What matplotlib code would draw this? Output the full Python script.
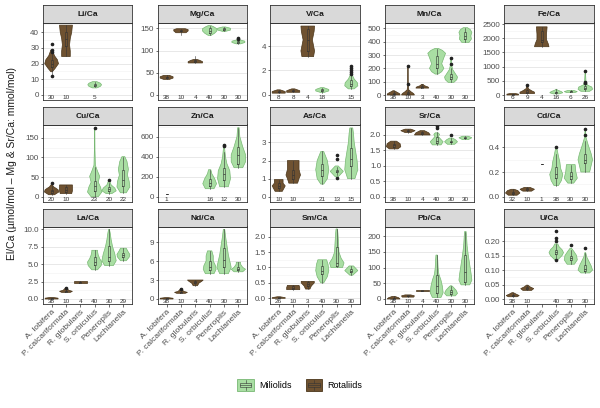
import matplotlib
matplotlib.use("Agg")
import matplotlib.pyplot as plt
from matplotlib.patches import Patch, Rectangle
from matplotlib.lines import Line2D
from matplotlib.legend_handler import HandlerBase

plt.rcParams['font.family'] = ['Liberation Sans', 'DejaVu Sans']

species = ["A. lobifera", "P. calcariformata", "R. globularis",
           "S. orbiculus", "Peneroplis", "Lachlanella"]
order = ["Rotaliids", "Rotaliids", "Rotaliids", "Miliolids", "Miliolids", "Miliolids"]

panels = ["Li/Ca", "Mg/Ca", "V/Ca", "Mn/Ca", "Fe/Ca",
          "Cu/Ca", "Zn/Ca", "As/Ca", "Sr/Ca", "Cd/Ca",
          "La/Ca", "Nd/Ca", "Sm/Ca", "Pb/Ca", "U/Ca"]

ylims = [(-3.2, 46.2), (-11.3, 163), (-0.41, 5.92), (-37.5, 544), (-176, 2553),
         (-13.5, 184), (-53, 722), (-0.29, 3.99), (-0.17, 2.34), (-0.043, 0.585),
         (-0.72, 10.42), (-0.79, 11.45), (-0.185, 2.33), (-16, 231), (-0.017, 0.25)]

yticks = [[0, 10, 20, 30, 40], [0, 50, 100, 150], [0, 2, 4], [0, 100, 200, 300, 400, 500],
          [0, 500, 1000, 1500, 2000, 2500],
          [0, 50, 100, 150], [0, 200, 400, 600], [0, 1, 2, 3], [0, 0.5, 1.0, 1.5, 2.0],
          [0, 0.2, 0.4],
          [0, 2.5, 5.0, 7.5, 10.0], [0, 3, 6, 9], [0, 0.5, 1.0, 1.5, 2.0],
          [0, 50, 100, 150, 200], [0, 0.05, 0.10, 0.15, 0.20]]
ydec = [0, 0, 0, 0, 0, 0, 0, 0, 1, 1, 1, 0, 1, 0, 2]

counts = [[30, 10, None, 5, None, None], [38, 10, 4, 40, 30, 30], [8, 8, 4, 18, None, 15],
          [38, 10, 3, 40, 30, 30], [6, 9, 4, 16, 6, 26],
          [20, 10, None, 23, 20, 22], [1, None, None, 16, 12, 30], [10, 10, None, 21, 13, 15],
          [38, 10, 4, 40, 30, 30], [32, 10, 1, 38, 30, 30],
          [38, 10, 4, 40, 30, 29], [38, 10, 4, 40, 30, 30], [26, 10, 3, 40, 30, 30],
          [38, 10, 4, 40, 30, 30], [38, 10, None, 40, 30, 30]]

# violin outlines: (value, half width)
violins = [
    [[(14.8, .05), (17, .25), (20, .48), (22.5, .4), (25, .2), (28.7, .05)],
     [(24.5, .3), (28, .3), (32, .25), (36, .3), (40, .4), (44.5, .45)],
     None,
     [(4.5, .15), (5.5, .4), (6.5, .48), (7.5, .4), (8.5, .15)], None, None],
    [[(35, .2), (38, .45), (41, .45), (44, .2)],
     [(140, .35), (144, .5), (147, .5), (149, .3)],
     [(72, .5), (75, .5), (78, .3), (80, .1)],
     [(134, .1), (139, .35), (144, .5), (149, .5), (153, .3), (156, .1)],
     [(143, .1), (146, .45), (150, .45), (153, .1)],
     [(115, .15), (118, .45), (121, .45), (124, .1)]],
    [[(0.15, .45), (0.28, .45), (0.42, .1)],
     [(0.22, .45), (0.35, .45), (0.5, .1)],
     [(3.13, .4), (3.6, .47), (4.5, .32), (5.2, .44), (5.63, .47)],
     [(0.2, .1), (0.33, .45), (0.45, .45), (0.6, .1)],
     None,
     [(0.5, .2), (0.75, .45), (1.0, .42), (1.3, .2), (1.6, .08), (2.0, .04), (2.4, .02)]],
    [[(0, .45), (10, .42), (20, .25), (32, .05)],
     [(0, .45), (10, .4), (25, .2), (40, .05), (80, .02), (220, .01)],
     [(52, .45), (60, .4), (70, .15), (80, .05)],
     [(157, .1), (175, .35), (200, .5), (235, .35), (280, .5), (313, .62), (335, .4), (350, .1)],
     [(95, .2), (115, .4), (135, .45), (160, .3), (190, .12), (230, .03), (280, .01)],
     [(395, .25), (420, .42), (445, .38), (470, .45), (490, .35), (505, .15)]],
    [[(0, .4), (30, .4), (50, .2)],
     [(50, .5), (100, .5), (150, .3), (220, .08), (350, .02)],
     [(1700, .5), (1800, .45), (1950, .33), (2150, .33), (2400, .37)],
     [(40, .2), (80, .45), (120, .35), (170, .1), (200, .03)],
     [(90, .3), (120, .45), (160, .2)],
     [(130, .3), (200, .5), (280, .45), (350, .15), (450, .05), (850, .01)]],
    [[(5, .2), (12, .5), (18, .45), (25, .15), (30, .05)],
     [(8, .4), (15, .45), (25, .45), (30, .45)],
     None,
     [(0, .25), (12, .5), (25, .4), (37, .25), (52, .35), (65, .2), (80, .05), (120, .02), (175, .01)],
     [(8, .2), (15, .5), (22, .4), (30, .15), (42, .02)],
     [(10, .2), (25, .45), (40, .4), (55, .28), (70, .35), (90, .25), (102, .1)]],
    [None, None, None,
     [(80, .3), (130, .48), (180, .35), (230, .15), (270, .08)],
     [(100, .3), (180, .45), (260, .4), (330, .2), (400, .1), (470, .05), (520, .03)],
     [(290, .3), (350, .5), (420, .5), (500, .3), (600, .1), (690, .05)]],
    [[(0.3, .25), (0.6, .45), (0.75, .3), (0.95, .3)],
     [(0.75, .3), (1.0, .4), (1.2, .5), (1.5, .4), (1.8, .4), (2.0, .4)],
     None,
     [(0.7, .1), (1.0, .35), (1.5, .45), (2.0, .35), (2.5, .1)],
     [(1.1, .1), (1.4, .45), (1.7, .1)],
     [(1.0, .25), (1.5, .45), (2.0, .4), (2.5, .3), (3.0, .2), (3.5, .15), (3.8, .1)]],
    [[(1.55, .3), (1.62, .5), (1.72, .45), (1.8, .2)],
     [(2.08, .2), (2.14, .5), (2.19, .2)],
     [(2.0, .55), (2.07, .45), (2.14, .15)],
     [(1.68, .3), (1.78, .45), (1.88, .25), (1.95, .12), (2.02, .2), (2.07, .1)],
     [(1.7, .25), (1.78, .45), (1.85, .3), (1.9, .1)],
     [(1.85, .2), (1.91, .45), (1.96, .2)]],
    [[(0.012, .3), (0.03, .5), (0.05, .35), (0.06, .1)],
     [(0.045, .3), (0.06, .5), (0.075, .2)],
     None,
     [(0.09, .15), (0.13, .35), (0.18, .45), (0.23, .3), (0.28, .25), (0.33, .15), (0.4, .03)],
     [(0.11, .2), (0.15, .45), (0.2, .35), (0.26, .3)],
     [(0.2, .3), (0.25, .4), (0.3, .5), (0.35, .4), (0.42, .2), (0.48, .05), (0.55, .01)]],
    [[(0.0, .45), (0.12, .45), (0.22, .1)],
     [(0.95, .3), (1.1, .45), (1.25, .2), (1.6, .02)],
     [(2.25, .45), (2.45, .45), (2.6, .45)],
     [(4.2, .2), (4.8, .45), (5.3, .5), (5.8, .35), (6.3, .25), (6.8, .2), (7.0, .2)],
     [(4.8, .3), (5.5, .5), (6.5, .4), (7.5, .25), (8.5, .15), (9.5, .08), (10.0, .03)],
     [(5.5, .2), (6.0, .4), (6.4, .45), (6.9, .3), (7.3, .2)]],
    [[(0.0, .45), (0.12, .45), (0.22, .1)],
     [(0.9, .3), (1.05, .45), (1.2, .2), (1.6, .02)],
     [(2.1, .15), (2.5, .25), (2.8, .45), (3.0, .55)],
     [(4.0, .3), (4.7, .45), (5.3, .4), (6.0, .25), (6.8, .25), (7.6, .15)],
     [(4.0, .3), (5.0, .5), (6.0, .4), (7.0, .3), (8.5, .2), (10, .1), (11, .05)],
     [(4.3, .3), (4.7, .5), (5.0, .3), (5.5, .15), (5.8, .15)]],
    [[(0.0, .45), (0.02, .45), (0.05, .1)],
     [(0.28, .45), (0.35, .45), (0.42, .4)],
     [(0.3, .15), (0.4, .25), (0.5, .45), (0.55, .45)],
     [(0.5, .1), (0.7, .35), (0.9, .45), (1.1, .4), (1.25, .3)],
     [(1.0, .4), (1.15, .5), (1.3, .3), (1.5, .15), (1.8, .12), (2.1, .08), (2.25, .05)],
     [(0.75, .1), (0.9, .45), (1.05, .15)]],
    [[(0, .45), (4, .35), (8, .1)],
     [(6, .4), (10, .45), (13, .2)],
     [(25, .45), (29, .45)],
     [(5, .3), (20, .45), (40, .4), (60, .3), (80, .15), (100, .1), (120, .08), (140, .05)],
     [(10, .3), (18, .45), (28, .35), (38, .15), (42, .05)],
     [(45, .3), (60, .45), (80, .4), (110, .3), (140, .2), (170, .12), (200, .08), (215, .05)]],
    [[(0.008, .3), (0.012, .45), (0.018, .2), (0.022, .05)],
     [(0.03, .3), (0.036, .45), (0.042, .2), (0.048, .05)],
     None,
     [(0.135, .1), (0.15, .4), (0.16, .5), (0.17, .4), (0.18, .2), (0.19, .1)],
     [(0.12, .25), (0.135, .45), (0.15, .4), (0.165, .2), (0.175, .05)],
     [(0.09, .3), (0.1, .5), (0.115, .4), (0.13, .25), (0.145, .1), (0.16, .03)]],
]

# box stats: (whisker low, q1, median, q3, whisker high)
boxes = [
    [(13, 18, 20, 22.5, 26), (25, 31, 36, 40, 44.5), None, (5, 5.8, 6.3, 7, 8), None, None],
    [(36, 38.5, 40, 41.5, 44), (136, 143, 145, 147, 149), (73, 74, 76, 79, 88),
     (134, 140, 145, 150, 156), (143, 146, 148, 150, 153), (115, 118, 120, 122, 125)],
    [(0.15, 0.22, 0.27, 0.32, 0.42), (0.22, 0.3, 0.35, 0.4, 0.5), (3.13, 3.6, 4.5, 5.4, 5.63),
     (0.2, 0.32, 0.4, 0.46, 0.6), None, (0.5, 0.75, 0.9, 1.2, 1.6)],
    [(0, 5, 10, 18, 32), (0, 5, 12, 25, 40), (52, 55, 60, 70, 82),
     (160, 200, 235, 290, 345), (95, 120, 135, 160, 200), (400, 420, 440, 470, 500)],
    [(0, 10, 20, 35, 50), (50, 80, 110, 160, 220), (1700, 1850, 1950, 2250, 2400),
     (40, 70, 90, 120, 200), (90, 110, 125, 140, 160), (130, 200, 250, 320, 400)],
    [(5, 10, 14, 18, 28), (8, 12, 18, 25, 30), None,
     (0, 15, 27, 40, 75), (8, 14, 20, 25, 35), (10, 28, 43, 68, 100)],
    [(25, 25, 25, 25, 25), None, None,
     (80, 110, 135, 175, 270), (100, 170, 225, 290, 450), (290, 330, 420, 500, 690)],
    [(0.3, 0.5, 0.6, 0.75, 0.95), (0.75, 1.0, 1.2, 1.5, 2.0), None,
     (0.7, 1.15, 1.45, 1.8, 2.5), (1.2, 1.35, 1.4, 1.5, 1.65), (1.0, 1.7, 2.1, 2.7, 3.8)],
    [(1.56, 1.62, 1.67, 1.72, 1.8), (2.06, 2.12, 2.14, 2.16, 2.2), (2.0, 2.02, 2.05, 2.1, 2.14),
     (1.68, 1.75, 1.82, 1.95, 2.1), (1.7, 1.76, 1.78, 1.82, 1.9), (1.86, 1.89, 1.91, 1.93, 1.96)],
    [(0.012, 0.025, 0.03, 0.04, 0.06), (0.045, 0.055, 0.06, 0.068, 0.075),
     (0.265, 0.265, 0.265, 0.265, 0.265),
     (0.09, 0.15, 0.18, 0.24, 0.35), (0.11, 0.14, 0.17, 0.2, 0.26), (0.2, 0.27, 0.3, 0.35, 0.45)],
    [(0, 0.05, 0.1, 0.13, 0.2), (0.95, 1.05, 1.1, 1.2, 1.4), (2.25, 2.35, 2.4, 2.5, 2.6),
     (4.2, 4.9, 5.3, 6.0, 7.0), (4.8, 5.5, 6.1, 7.6, 10.0), (5.5, 6.0, 6.3, 6.6, 7.3)],
    [(0, 0.05, 0.1, 0.13, 0.2), (0.9, 1.0, 1.05, 1.15, 1.3), (2.1, 2.5, 2.7, 2.9, 3.0),
     (4.0, 4.6, 5.0, 6.0, 7.6), (4.0, 5.0, 6.2, 8.0, 11.0), (4.3, 4.6, 4.8, 5.1, 5.8)],
    [(0, 0.01, 0.02, 0.03, 0.05), (0.28, 0.31, 0.35, 0.39, 0.42), (0.3, 0.4, 0.47, 0.52, 0.55),
     (0.5, 0.78, 0.9, 1.05, 1.25), (1.0, 1.05, 1.15, 1.65, 2.25), (0.75, 0.85, 0.9, 0.95, 1.05)],
    [(0, 1, 2, 4, 8), (6, 8, 10, 12, 14), (25, 26, 27, 28, 29),
     (5, 20, 40, 75, 140), (10, 16, 22, 28, 42), (45, 55, 85, 140, 215)],
    [(0.008, 0.011, 0.013, 0.015, 0.022), (0.03, 0.034, 0.037, 0.04, 0.048), None,
     (0.14, 0.155, 0.162, 0.17, 0.19), (0.12, 0.135, 0.142, 0.15, 0.17),
     (0.09, 0.098, 0.105, 0.118, 0.16)],
]

outliers = [
    [[12, 27.5, 28.5, 32.5], [], [], [], [], []],
    [[], [], [], [], [], [127, 128]],
    [[], [], [], [], [], [1.75, 1.9, 2.05, 2.2, 2.4]],
    [[], [80, 220], [], [], [230, 280], []],
    [[], [350], [], [], [], [430, 470, 850]],
    [[35], [], [], [175], [42], []],
    [[], [], [], [], [505, 520], []],
    [[], [], [], [], [1.05, 2.1, 2.3], []],
    [[], [], [], [2.22, 2.28], [2.0], []],
    [[], [], [], [0.405], [], [0.5, 0.55]],
    [[], [1.6], [], [], [], []],
    [[], [1.6], [], [], [], []],
    [[], [], [], [], [], []],
    [[], [], [], [], [], []],
    [[], [], [], [0.135, 0.2, 0.21, 0.235], [0.185], [0.175]],
]

fills = {"Miliolids": "#a9dea3", "Rotaliids": "#6f5231"}
edges = {"Miliolids": "#78b873", "Rotaliids": "#4a3519"}


class KeyHandler(HandlerBase):
    # legend key: filled square with a small boxplot glyph inside
    def create_artists(self, legend, orig, xd, yd, w, h, fontsize, trans):
        x0, y0 = -xd, -yd
        arts = [Rectangle((x0, y0), w, h, facecolor=orig.get_facecolor(),
                          edgecolor=orig.get_edgecolor(), lw=0.6, transform=trans)]
        arts.append(Rectangle((x0 + 0.15 * w, y0 + 0.32 * h), 0.7 * w, 0.36 * h,
                              facecolor="none", edgecolor="#333333", lw=0.4, transform=trans))
        arts.append(Line2D([x0 + 0.15 * w, x0 + 0.85 * w], [y0 + 0.5 * h] * 2,
                           color="#333333", lw=0.4, transform=trans))
        arts.append(Line2D([x0 + 0.5 * w] * 2, [y0 + 0.08 * h, y0 + 0.32 * h],
                           color="#333333", lw=0.4, transform=trans))
        arts.append(Line2D([x0 + 0.5 * w] * 2, [y0 + 0.68 * h, y0 + 0.92 * h],
                           color="#333333", lw=0.4, transform=trans))
        return arts


W, H = 600, 408
col_x = [(43, 132), (158, 247), (270, 360), (385, 474), (504, 594)]
row_y = [(5, 22.5, 100), (107, 124.5, 202), (209, 226.5, 304)]

fig = plt.figure(figsize=(6, 4.08), dpi=100)

for i, name in enumerate(panels):
    r, c = divmod(i, 5)
    x0, x1 = col_x[c]
    st, pt, pb = row_y[r]
    ax = fig.add_axes([x0 / W, 1 - pb / H, (x1 - x0) / W, (pb - pt) / H])
    sax = fig.add_axes([x0 / W, 1 - pt / H, (x1 - x0) / W, (pt - st) / H])
    sax.set_xticks([]); sax.set_yticks([])
    sax.set_facecolor("#d9d9d9")
    for s in sax.spines.values():
        s.set_color("#333333"); s.set_linewidth(0.6)
    sax.text(0.5, 0.45, name, ha="center", va="center", fontsize=6, fontweight="bold",
             color="#1a1a1a", transform=sax.transAxes)

    lo, hi = ylims[i]
    ax.set_ylim(lo, hi)
    ax.set_xlim(0.4, 6.6)
    ticks = yticks[i]
    step = ticks[1] - ticks[0]
    minors = [t - step / 2 for t in ticks] + [ticks[-1] + step / 2]
    for m in minors:
        if lo < m < hi:
            ax.axhline(m, color="#f2f2f2", lw=0.4, zorder=0)
    for t in ticks:
        ax.axhline(t, color="#e8e8e8", lw=0.7, zorder=0)
    ax.set_yticks(ticks)
    ax.set_yticklabels([f"{t:.{ydec[i]}f}" for t in ticks])
    ax.tick_params(axis="y", length=1.8, width=0.5, color="#333333", labelsize=5.8,
                   labelcolor="#4d4d4d", pad=1)
    for s in ax.spines.values():
        s.set_color("#333333"); s.set_linewidth(0.6)

    for j in range(6):
        pos = j + 1
        g = order[j]
        v = violins[i][j]
        if v is not None:
            ys = [k[0] for k in v]
            hw = [k[1] for k in v]
            xs = [pos + w for w in hw] + [pos - w for w in reversed(hw)]
            ax.fill(xs, ys + ys[::-1], facecolor=fills[g], edgecolor=edges[g],
                    lw=0.5, zorder=2)
        b = boxes[i][j]
        if b is not None:
            stats = [{"whislo": b[0], "q1": b[1], "med": b[2], "q3": b[3], "whishi": b[4],
                      "fliers": outliers[i][j]}]
            ax.bxp(stats, positions=[pos], widths=0.13, showcaps=False, manage_ticks=False,
                   boxprops=dict(color="#333333", lw=0.4),
                   whiskerprops=dict(color="#333333", lw=0.4),
                   medianprops=dict(color="#333333", lw=0.5),
                   flierprops=dict(marker="o", markersize=1.6, markerfacecolor="#222222",
                                   markeredgecolor="#222222"),
                   zorder=3)
        n = counts[i][j]
        if n is not None:
            ax.text(pos, 0.035, str(n), ha="center", va="center", fontsize=4.6,
                    color="#333333", transform=ax.get_xaxis_transform(), zorder=4)

    ax.set_xticks(range(1, 7))
    if r == 2:
        ax.set_xticklabels(species, rotation=45, ha="right", rotation_mode="anchor",
                           fontsize=6, color="#4d4d4d")
        ax.tick_params(axis="x", length=1.8, width=0.5, color="#333333", pad=1.5)
    else:
        ax.tick_params(axis="x", length=0, labelbottom=False)

fig.text(12 / W, 1 - 163 / H, "El/Ca (µmol/mol – Mg & Sr/Ca: mmol/mol)", rotation=90,
         ha="center", va="center", fontsize=7.5, color="#1a1a1a")

handles = [Patch(facecolor=fills["Miliolids"], edgecolor=edges["Miliolids"], label="Miliolids"),
           Patch(facecolor=fills["Rotaliids"], edgecolor=edges["Rotaliids"], label="Rotaliids")]
fig.legend(handles=handles, loc="center", bbox_to_anchor=(300 / W, 1 - 385 / H), ncol=2,
           frameon=False, fontsize=6.5, handlelength=1.8, handleheight=1.8,
           columnspacing=1.6, handletextpad=0.6,
           handler_map={Patch: KeyHandler()})

fig.savefig("out.png", dpi=100)
